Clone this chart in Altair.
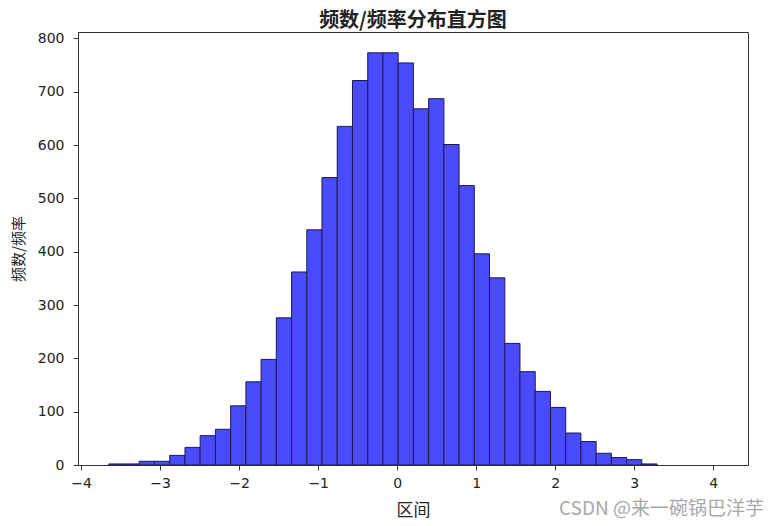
import altair as alt
import pandas as pd

# histogram bin edges
bin_edges = [-3.650, -3.457, -3.265, -3.072, -2.879, -2.686, -2.494, -2.301, -2.108,
             -1.915, -1.723, -1.530, -1.337, -1.144, -0.952, -0.759, -0.566, -0.373,
             -0.181, 0.012, 0.205, 0.398, 0.591, 0.783, 0.976, 1.169, 1.362, 1.554,
             1.747, 1.940, 2.133, 2.325, 2.518, 2.711, 2.904, 3.096, 3.289]
counts = [2, 2, 7, 7, 18, 33, 55, 67, 111, 156, 198, 276, 362, 441, 539, 635, 721,
          773, 773, 754, 668, 687, 601, 524, 396, 351, 228, 175, 138, 108, 60, 44,
          22, 14, 10, 2]
x_ticks = [-4, -3, -2, -1, 0, 1, 2, 3, 4]
y_ticks = [0, 100, 200, 300, 400, 500, 600, 700, 800]

title_text = "频数/频率分布直方图"
x_title = "区间"
y_title = "频数/频率"
watermark = "CSDN @来一碗锅巴洋芋"

df = pd.DataFrame({"start": bin_edges[:-1], "end": bin_edges[1:], "count": counts})

CJK = "Noto Sans CJK SC"
NUM = "DejaVu Sans"

bars = alt.Chart(df).mark_rect(
    fill="#4a4aff", stroke="#1c1c4a", strokeWidth=1
).encode(
    x=alt.X("start:Q",
            scale=alt.Scale(domain=[-4.04, 4.44], nice=False, zero=False),
            axis=alt.Axis(values=x_ticks, format="d", title=x_title,
                          titleFont=CJK, titleFontSize=17, titleFontWeight="normal",
                          titleColor="#222", titleY=37, titleBaseline="top",
                          labelFont=NUM, labelFontSize=14, labelColor="#222",
                          labelPadding=6, tickSize=5, tickColor="#333",
                          domainColor="#333", grid=False)),
    x2="end:Q",
    y=alt.Y("count:Q",
            scale=alt.Scale(domain=[0, 812], nice=False),
            axis=alt.Axis(values=y_ticks, format="d", title=y_title,
                          titleFont=CJK, titleFontSize=15, titleFontWeight="normal",
                          titleColor="#222", titleX=-52, titleBaseline="bottom",
                          labelFont=NUM, labelFontSize=14, labelColor="#222",
                          labelPadding=9, tickSize=5, tickColor="#333",
                          domainColor="#333", grid=False)),
    y2=alt.datum(0),
)

title_df = pd.DataFrame({"t": [title_text]})
title_mark = alt.Chart(title_df).mark_text(
    font=CJK, fontSize=20, fontWeight="bold", color="#222",
    align="center", baseline="top"
).encode(
    text="t:N",
    x=alt.value(335),
    y=alt.value(-21),
)

mark_df = pd.DataFrame({"t": [watermark]})
wm = alt.Chart(mark_df).mark_text(
    font=CJK, fontSize=19, color="#a8a8a8", align="right", baseline="alphabetic"
).encode(
    text="t:N",
    x=alt.value(686),
    y=alt.value(483),
)

chart = alt.layer(bars, title_mark, wm).properties(
    width=670,
    height=433,
    padding={"left": 70, "top": 24, "right": 22, "bottom": 61},
    autosize=alt.AutoSizeParams(type="none"),
).configure_view(
    stroke="#333", strokeWidth=1
)

chart.save("out.html", embed_options={"renderer": "svg", "actions": False})
